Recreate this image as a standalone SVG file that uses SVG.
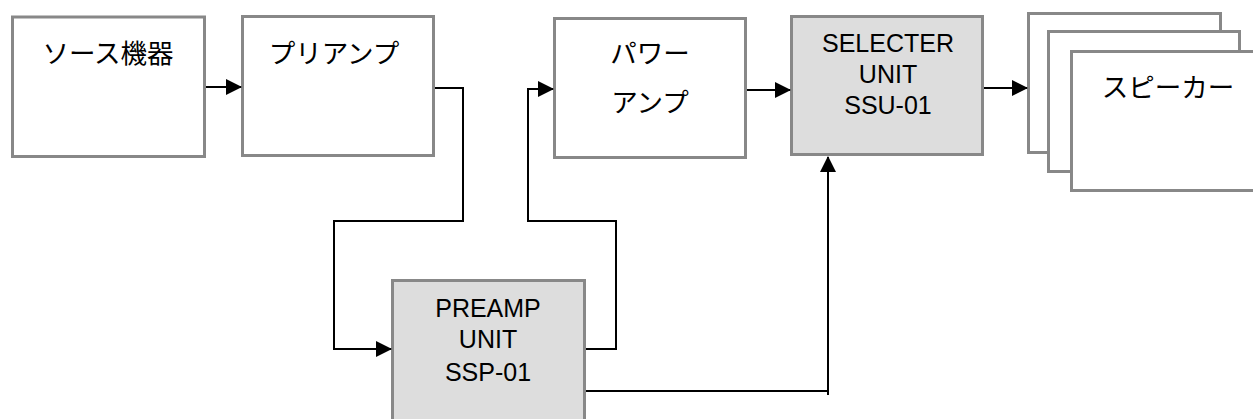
<svg xmlns="http://www.w3.org/2000/svg" width="1253" height="419" viewBox="0 0 1253 419">
<style>
  .box { fill: #ffffff; stroke: #888888; stroke-width: 3; }
  .unit { fill: #dddddd; stroke: #888888; stroke-width: 3; }
  .lbl { font-family: "Liberation Sans", "Noto Sans CJK JP", sans-serif; font-size: 25px; fill: #000000; text-anchor: middle; }
  .jp { font-family: "Noto Sans CJK JP", "Liberation Sans", sans-serif; font-size: 26.5px; fill: #000000; text-anchor: middle; }
  .wire { fill: none; stroke: #000000; stroke-width: 2; }
</style>
<defs>
  <marker id="ah" markerUnits="userSpaceOnUse" markerWidth="16" markerHeight="16" viewBox="0 0 16 16" refX="15" refY="8" orient="auto">
    <path d="M0,0 L16,8 L0,16 Z" fill="#000000"/>
  </marker>
</defs>
<rect width="1253" height="419" fill="#ffffff"/>
<g id="source">
  <rect class="box" x="12.5" y="17" width="192" height="139.5"/>
  <text class="jp" x="108" y="63">ソース機器</text>
</g>
<g id="preamp">
  <rect class="box" x="242.5" y="16.5" width="191" height="139"/>
  <text class="jp" x="334" y="63">プリアンプ</text>
</g>
<g id="poweramp">
  <rect class="box" x="554.5" y="18.5" width="191" height="139"/>
  <text class="jp" x="650" y="63">パワー</text>
  <text class="jp" x="650" y="112">アンプ</text>
</g>
<g id="selecter">
  <rect class="unit" x="791.5" y="16.5" width="191" height="138"/>
  <text class="lbl" x="888" y="52">SELECTER</text>
  <text class="lbl" x="888" y="83">UNIT</text>
  <text class="lbl" x="888" y="114">SSU-01</text>
</g>
<g id="preampunit">
  <rect class="unit" x="392.5" y="280.5" width="192" height="150"/>
  <text class="lbl" x="488" y="317">PREAMP</text>
  <text class="lbl" x="488" y="348">UNIT</text>
  <text class="lbl" x="488" y="381">SSP-01</text>
</g>
<g id="speakers">
  <rect class="box" x="1028.5" y="13.5" width="192" height="139"/>
  <rect class="box" x="1048.5" y="31.5" width="191" height="140"/>
  <rect class="box" x="1071.5" y="51.5" width="192" height="139"/>
  <text class="jp" x="1168" y="97">スピーカー</text>
</g>
<g id="connectors">
  <path class="wire" d="M206,87 H241" marker-end="url(#ah)"/>
  <path class="wire" d="M435,88 H463 V221 H334 V349 H391" marker-end="url(#ah)"/>
  <path class="wire" d="M586,349 H616 V221 H528 V89 H553" marker-end="url(#ah)"/>
  <path class="wire" d="M586,391 H828"/>
  <path class="wire" d="M828,395 V157" marker-end="url(#ah)"/>
  <path class="wire" d="M747,90 H790" marker-end="url(#ah)"/>
  <path class="wire" d="M984,88 H1027" marker-end="url(#ah)"/>
</g>
</svg>
